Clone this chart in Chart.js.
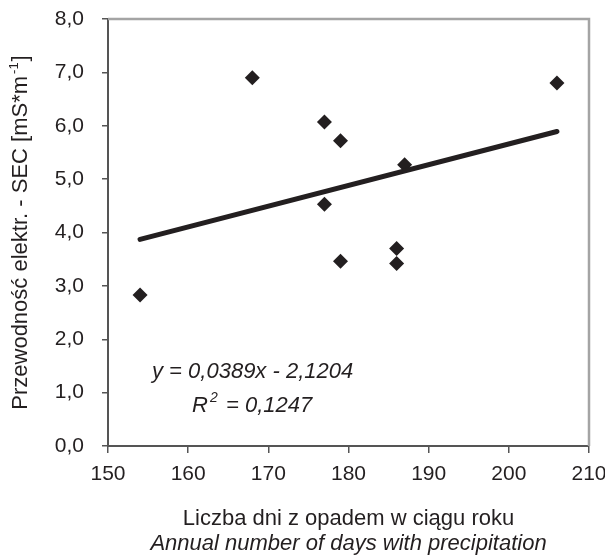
<!DOCTYPE html>
<html>
<head>
<meta charset="utf-8">
<script src="https://cdn.jsdelivr.net/npm/chart.js@4.4.1/dist/chart.umd.min.js"></script>
<style>
  html, body { margin: 0; padding: 0; background: #fff; }
  #wrap { width: 605px; height: 555px; }
</style>
</head>
<body>
<div id="wrap"><canvas id="chart"></canvas></div>
<script>
// data
const daysPrecip = [154, 168, 177, 177, 179, 179, 186, 186, 187, 206];
const secValues = [2.83, 6.90, 6.07, 4.53, 5.72, 3.46, 3.70, 3.42, 5.27, 6.80];
const xTicks = [150, 160, 170, 180, 190, 200, 210];
const yTicks = [0, 1, 2, 3, 4, 5, 6, 7, 8];
const slope = 0.0389;
const intercept = -2.1204;
const rSquared = 0.1247;

const ink = '#231f20';
const fam = '"Liberation Sans", Arial, sans-serif';
const fmt = v => v.toFixed(1).replace('.', ',');

const points = daysPrecip.map((d, i) => ({ x: d, y: secValues[i] }));
const xMin = Math.min(...daysPrecip), xMax = Math.max(...daysPrecip);
const trend = [xMin, xMax].map(x => ({ x: x, y: slope * x + intercept }));

// titles, equation and the light frame on top/right
const decor = {
    id: 'decor',
    afterDraw(chart) {
        const ctx = chart.ctx;
        const a = chart.chartArea;
        ctx.save();
        ctx.strokeStyle = '#a4a4a4';
        ctx.lineWidth = 2.5;
        ctx.beginPath();
        ctx.moveTo(a.left, a.top);
        ctx.lineTo(a.right, a.top);
        ctx.lineTo(a.right, a.bottom);
        ctx.stroke();

        ctx.fillStyle = ink;
        // y axis title with superscript
        ctx.translate(21, (a.top + a.bottom) / 2);
        ctx.rotate(-Math.PI / 2);
        ctx.textBaseline = 'middle';
        ctx.textAlign = 'left';
        const t1 = 'Przewodność elektr. - SEC [mS*m';
        const sup = '-1';
        const t2 = ']';
        ctx.font = '22px ' + fam;
        const w1 = ctx.measureText(t1).width;
        const w3 = ctx.measureText(t2).width;
        ctx.font = '13px ' + fam;
        const w2 = ctx.measureText(sup).width + 3;
        const x0 = -(w1 + w2 + w3) / 2;
        ctx.font = '22px ' + fam;
        ctx.fillText(t1, x0, 0);
        ctx.font = '13px ' + fam;
        ctx.fillText(sup, x0 + w1 + 2, -7);
        ctx.font = '22px ' + fam;
        ctx.fillText(t2, x0 + w1 + w2, 0);
        ctx.restore();

        ctx.save();
        ctx.fillStyle = ink;
        ctx.textAlign = 'center';
        ctx.textBaseline = 'alphabetic';
        const cx = (a.left + a.right) / 2;
        ctx.font = '22px ' + fam;
        ctx.fillText('Liczba dni z opadem w ciągu roku', cx, 525);
        ctx.font = 'italic 22px ' + fam;
        ctx.fillText('Annual number of days with precipitation', cx, 550);

        // regression equation
        ctx.textAlign = 'left';
        ctx.font = 'italic 22px ' + fam;
        const eq = 'y = ' + slope.toFixed(4).replace('.', ',') + 'x - ' +
            Math.abs(intercept).toFixed(4).replace('.', ',');
        ctx.fillText(eq, 152, 378);
        ctx.fillText('R', 192, 412);
        ctx.font = 'italic 14px ' + fam;
        ctx.fillText('2', 210, 402);
        ctx.font = 'italic 22px ' + fam;
        ctx.fillText('= ' + rSquared.toFixed(4).replace('.', ','), 226, 412);
        ctx.restore();
    }
};

new Chart(document.getElementById('chart'), {
    type: 'scatter',
    data: {
        datasets: [
            {
                type: 'line',
                data: trend,
                borderColor: ink,
                borderWidth: 5,
                pointRadius: 0,
                borderCapStyle: 'round',
                fill: false
            },
            {
                data: points,
                pointStyle: 'rectRot',
                pointRadius: 7.5,
                pointHoverRadius: 7.5,
                backgroundColor: ink,
                borderWidth: 0
            }
        ]
    },
    options: {
        responsive: true,
        maintainAspectRatio: false,
        animation: false,
        events: [],
        layout: { autoPadding: false, padding: { left: 0, top: 19, right: 16, bottom: 0 } },
        plugins: { legend: { display: false }, tooltip: { enabled: false } },
        scales: {
            x: {
                type: 'linear',
                min: xTicks[0],
                max: xTicks[xTicks.length - 1],
                afterBuildTicks: s => { s.ticks = xTicks.map(v => ({ value: v })); },
                afterFit: s => { s.height = 109; s.paddingLeft = 0; s.paddingRight = 0; },
                ticks: {
                    color: ink,
                    font: { family: fam, size: 21 },
                    padding: 9,
                    maxRotation: 0
                },
                grid: { drawOnChartArea: false, drawTicks: true, tickLength: 7, color: '#555', lineWidth: 1.5 },
                border: { display: true, color: '#555', width: 2 }
            },
            y: {
                min: yTicks[0],
                max: yTicks[yTicks.length - 1],
                afterBuildTicks: s => { s.ticks = yTicks.map(v => ({ value: v })); },
                afterFit: s => { s.width = 108; s.paddingTop = 0; s.paddingBottom = 0; },
                ticks: {
                    color: ink,
                    font: { family: fam, size: 21 },
                    padding: 18,
                    callback: v => fmt(v)
                },
                grid: { drawOnChartArea: false, drawTicks: true, tickLength: 6, color: '#555', lineWidth: 1.5 },
                border: { display: true, color: '#555', width: 2 }
            }
        }
    },
    plugins: [decor]
});
</script>
</body>
</html>
